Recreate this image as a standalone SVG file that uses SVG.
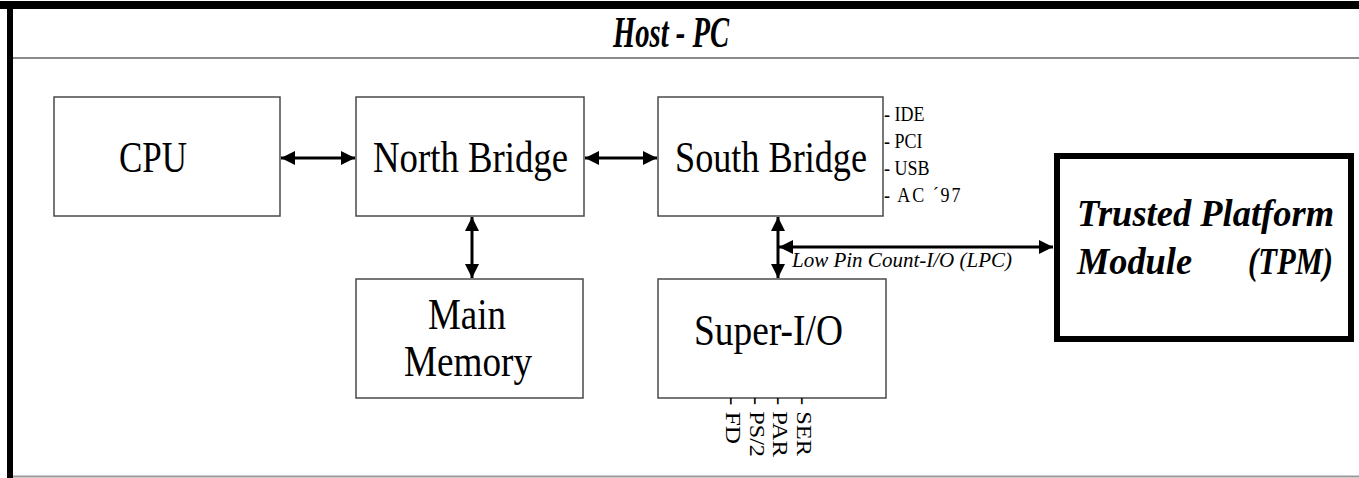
<svg xmlns="http://www.w3.org/2000/svg" width="1359" height="478" viewBox="0 0 1359 478">
  <style>
    .box { fill: #fff; stroke: #4a4a4a; stroke-width: 1.5; }
    .tpm { fill: #fff; stroke: #000; stroke-width: 6; }
    .lbl { font-family: "Liberation Serif", "Times New Roman", serif; font-size: 44px; fill: #000; }
    .small { font-family: "Liberation Serif", "Times New Roman", serif; font-size: 21px; fill: #000; }
    .bus { font-family: "Liberation Serif", "Times New Roman", serif; font-size: 20px; fill: #000; }
    .bi { font-family: "Liberation Serif", "Times New Roman", serif; font-weight: bold; font-style: italic; fill: #000; }
    .link { stroke: #000; stroke-width: 3; fill: none; marker-start: url(#arr); marker-end: url(#arr); }
  </style>
  <defs>
    <marker id="arr" markerUnits="userSpaceOnUse" markerWidth="15" markerHeight="14" refX="14" refY="7" orient="auto-start-reverse" viewBox="0 0 15 14">
      <path d="M0,0 L14,7 L0,14 z" fill="#000"/>
    </marker>
  </defs>

  <rect width="1359" height="478" fill="#fff"/>

  <!-- outer frame with header -->
  <g id="frame">
    <rect x="0" y="1" width="1359" height="8" fill="#000"/>
    <rect x="7" y="1" width="6" height="477" fill="#000"/>
    <line x1="13" y1="58" x2="1359" y2="58" stroke="#8a8a8a" stroke-width="2"/>
    <line x1="13" y1="476.5" x2="1359" y2="476.5" stroke="#999" stroke-width="2"/>
    <text class="bi" x="613" y="47" font-size="45" textLength="116" lengthAdjust="spacingAndGlyphs">Host - PC</text>
  </g>

  <!-- connectors -->
  <g id="connectors">
    <line class="link" x1="281" y1="158" x2="355" y2="158"/>
    <line class="link" x1="585" y1="158" x2="657" y2="158"/>
    <line class="link" x1="472" y1="217" x2="472" y2="278"/>
    <line class="link" x1="778" y1="217" x2="778" y2="278"/>
    <line class="link" x1="779" y1="247" x2="1053" y2="247"/>
    <text class="small" x="792" y="267" font-size="22" font-style="italic" fill="#222" textLength="220" lengthAdjust="spacingAndGlyphs">Low Pin Count-I/O (LPC)</text>
  </g>

  <g id="cpu">
    <rect class="box" x="54" y="97" width="226" height="119"/>
    <text class="lbl" x="119" y="172" textLength="68" lengthAdjust="spacingAndGlyphs">CPU</text>
  </g>

  <g id="north-bridge">
    <rect class="box" x="356" y="97" width="228" height="119"/>
    <text class="lbl" x="373" y="172" textLength="195" lengthAdjust="spacingAndGlyphs">North Bridge</text>
  </g>

  <g id="south-bridge">
    <rect class="box" x="658" y="97" width="225" height="119"/>
    <text class="lbl" x="675" y="172" textLength="192" lengthAdjust="spacingAndGlyphs">South Bridge</text>
    <!-- bus list, condensed horizontally -->
    <g transform="translate(884,0) scale(0.9,1)">
      <text class="bus" x="0" y="121">- IDE</text>
      <text class="bus" x="0" y="148">- PCI</text>
      <text class="bus" x="0" y="175">- USB</text>
      <text class="bus" x="0" y="202" textLength="85" lengthAdjust="spacing">- AC ´97</text>
    </g>
  </g>

  <g id="main-memory">
    <rect class="box" x="356" y="279" width="227" height="119"/>
    <text class="lbl" x="428" y="329" textLength="78" lengthAdjust="spacingAndGlyphs">Main</text>
    <text class="lbl" x="404" y="376" textLength="128" lengthAdjust="spacingAndGlyphs">Memory</text>
  </g>

  <g id="super-io">
    <rect class="box" x="658" y="279" width="228" height="119"/>
    <text class="lbl" x="694" y="345" textLength="149" lengthAdjust="spacingAndGlyphs">Super-I/O</text>
    <text class="small" transform="translate(726,397) rotate(90)" textLength="47" lengthAdjust="spacingAndGlyphs">- FD</text>
    <text class="small" transform="translate(750,397) rotate(90)" textLength="60" lengthAdjust="spacingAndGlyphs">- PS/2</text>
    <text class="small" transform="translate(773,397) rotate(90)" textLength="60" lengthAdjust="spacingAndGlyphs">- PAR</text>
    <text class="small" transform="translate(797,397) rotate(90)" textLength="59" lengthAdjust="spacingAndGlyphs">- SER</text>
  </g>

  <g id="tpm">
    <rect class="tpm" x="1057" y="156" width="294" height="183"/>
    <text class="bi" x="1077" y="226" font-size="37" textLength="257" lengthAdjust="spacingAndGlyphs">Trusted Platform</text>
    <text class="bi" x="1077" y="274" font-size="37" textLength="115" lengthAdjust="spacingAndGlyphs">Module</text>
    <text class="bi" x="1248" y="274" font-size="37" textLength="85" lengthAdjust="spacingAndGlyphs">(TPM)</text>
  </g>
</svg>
